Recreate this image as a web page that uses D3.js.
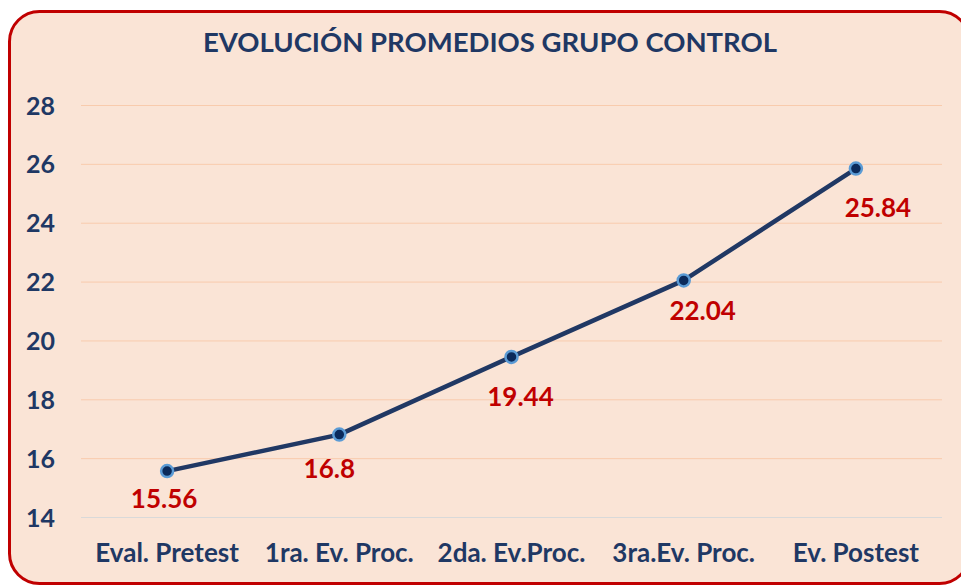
<!DOCTYPE html>
<html><head><meta charset="utf-8">
<script src="https://cdn.jsdelivr.net/npm/d3@7"></script>
<style>html,body{margin:0;padding:0;background:#fff;}svg{display:block;}</style>
</head><body>
<svg id="c" width="961" height="585"></svg>
<script>
const title = "EVOLUCIÓN PROMEDIOS GRUPO CONTROL";
const categories = ["Eval. Pretest", "1ra. Ev. Proc.", "2da. Ev.Proc.", "3ra.Ev. Proc.", "Ev. Postest"];
const values = [15.56, 16.8, 19.44, 22.04, 25.84];
const yTicks = [14, 16, 18, 20, 22, 24, 26, 28];
// small hand nudges of data labels relative to their default "below" spot
const labelNudge = [[-3, -6], [-10, 0], [9, 6], [19, -3], [22, 5]];

(function () {
const svg = d3.select("#c");
const font = "Lato, 'Open Sans', sans-serif";
const navy = "#1F3864";

svg.append("rect").attr("x", 9.5).attr("y", 11.5).attr("width", 960).attr("height", 572)
  .attr("rx", 30).attr("ry", 30).attr("fill", "#FAE4D6").attr("stroke", "#C00000").attr("stroke-width", 3);

const pLeft = 81, pRight = 942, pTop = 105, pBottom = 517;
const x = d3.scaleBand().domain(categories).range([pLeft, pRight]);
const y = d3.scaleLinear().domain([14, 28]).range([pBottom, pTop]);

svg.append("text").text(title).attr("x", 490).attr("y", 52).attr("text-anchor", "middle")
  .attr("font-family", font).attr("font-weight", 700).attr("font-size", 27.5).attr("fill", navy);

// gridlines
svg.append("g").selectAll("line").data(yTicks).join("line")
  .attr("x1", pLeft).attr("x2", pRight).attr("y1", d => y(d) + 0.5).attr("y2", d => y(d) + 0.5)
  .attr("stroke", d => d === 14 ? "#D9D9D9" : "#F8CBAD").attr("stroke-width", 1);

// y axis
const yAxis = svg.append("g").attr("transform", `translate(${pLeft},0)`)
  .call(d3.axisLeft(y).tickValues(yTicks).tickSize(0).tickPadding(26));
yAxis.select(".domain").remove();
yAxis.selectAll("text").attr("font-family", font).attr("font-weight", 700).attr("font-size", 25).attr("fill", navy).attr("dy", "0.36em");

// x axis
const xAxis = svg.append("g").attr("transform", `translate(0,${pBottom})`)
  .call(d3.axisBottom(x).tickSize(0).tickPadding(27));
xAxis.select(".domain").remove();
xAxis.selectAll("text").attr("font-family", font).attr("font-weight", 700).attr("font-size", 26).attr("fill", navy);

const cx = (d, i) => x(categories[i]) + x.bandwidth() / 2;
const line = d3.line().x((d, i) => cx(d, i)).y(d => y(d));
svg.append("path").datum(values).attr("d", line).attr("fill", "none")
  .attr("stroke", "#203864").attr("stroke-width", 4.5).attr("stroke-linejoin", "round");

svg.append("g").selectAll("circle").data(values).join("circle")
  .attr("cx", cx).attr("cy", d => y(d)).attr("r", 6)
  .attr("fill", "#0B2A5B").attr("stroke", "#5B9BD5").attr("stroke-width", 2.5);

svg.append("g").selectAll("text").data(values).join("text")
  .text(d => d)
  .attr("x", (d, i) => cx(d, i) + labelNudge[i][0])
  .attr("y", (d, i) => y(d) + 34 + labelNudge[i][1])
  .attr("text-anchor", "middle").attr("dy", "0.35em")
  .attr("font-family", font).attr("font-weight", 700).attr("font-size", 26).attr("fill", "#C00000");
})();
</script>
</body></html>
